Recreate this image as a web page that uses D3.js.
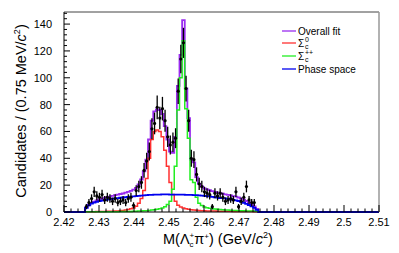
<!DOCTYPE html>
<html>
<head>
<meta charset="UTF-8">
<script src="https://d3js.org/d3.v7.min.js"></script>
<style>
  html, body { margin:0; padding:0; background:#fff; }
  svg text { font-family: "Liberation Sans", Arial, sans-serif; fill:#000; }
</style>
</head>
<body>
<div id="chart"></div>
<script>
// binning: 0.75 MeV bins, first filled bin starts at 2.426 GeV
const binWidth = 0.00075;
const firstEdge = 2.426;

// data (candidates per bin)
const dataCounts = [4, 7, 10, 15, 12, 11, 13, 9, 11, 10, 8, 10, 7, 8, 9, 7, 10, 11, 5, 16,
  19, 22, 31, 38, 45, 62, 66, 78, 70, 77, 68, 56, 50, 52, 55, 90, 114, 126, 92, 68,
  40, 39, 28, 21, 19, 15, 14, 13, 4, 14, 12, 14, 11, 8, 9, 10, 9, 15, 4, 8,
  11, 19, 9, 7, 7];

// fit components, same bins
const overallFit = [3.2, 5.4, 6.8, 7.8, 8.6, 9.3, 10.0, 10.6, 11.1, 11.5, 12.0, 12.5, 12.9, 13.4, 13.8, 14.4,
  15.0, 15.8, 16.6, 18.0, 20.5, 24.2, 30.3, 39, 54, 68, 75, 76.5, 76, 73, 64, 54, 45, 44, 56, 94, 117, 143,
  92, 70, 39, 37, 26, 21, 19, 17.5, 16.8, 16.2, 15.6, 15.0, 14.5, 14.0, 13.6, 13.2, 12.8, 12.4, 11.9, 11.4,
  10.8, 10.0, 9.2, 8.2, 7.1, 5.8, 4.2, 2.3];
const sigma0 = [0.1, 0.1, 0.2, 0.2, 0.3, 0.3, 0.4, 0.4, 0.5, 0.5, 0.6, 0.7,
  0.8, 1.0, 1.2, 1.5, 1.9, 2.4, 3.0, 4.2, 6.5, 10, 16, 25, 40, 54, 60, 61, 60, 56, 46, 34, 22, 13, 8, 5,
  3.8, 3.0, 2.4, 2.0, 1.7, 1.5, 1.3, 1.1, 1.0, 0.9,
  0.8, 0.8, 0.7, 0.7, 0.6, 0.6, 0.6, 0.5, 0.5, 0.5, 0.4, 0.4, 0.4, 0.4, 0.3, 0.3, 0.3, 0.3, 0.2, 0.2];
const sigmaPP = [0.1, 0.1, 0.1, 0.1, 0.1, 0.1, 0.15, 0.15, 0.2, 0.2, 0.2, 0.25, 0.25, 0.3, 0.3, 0.35, 0.4, 0.45,
  0.5, 0.6, 0.7, 0.8, 0.9, 1.0, 1.2, 1.4, 1.7, 2.0, 2.5, 3.0, 4.0, 5.5, 8, 17, 34, 76, 100, 127.5, 77, 55, 24,
  22, 11, 6.5, 4.8, 3.8, 3.2, 2.8, 2.5, 2.2, 2.0, 1.8, 1.6, 1.5, 1.4, 1.3, 1.2, 1.1, 1.0, 0.9, 0.9, 0.8, 0.8,
  0.7, 0.7, 0.6];
const phaseSpace = [3, 5, 6.2, 7, 7.6, 8.1, 8.5, 8.9, 9.2, 9.5, 9.8, 10.1, 10.4, 10.6, 10.8, 11.0, 11.2, 11.4,
  11.6, 11.8, 12.0, 12.2, 12.4, 12.5, 12.7, 12.8, 12.9, 13.0, 13.0, 13.1, 13.1, 13.1, 13, 13, 13, 13, 12.9,
  12.9, 12.8, 12.8, 12.7, 12.6, 12.5, 12.4, 12.2, 12.0, 11.8, 11.6, 11.3, 11.0, 10.7, 10.4, 10.4, 10.1, 9.8,
  9.5, 9.1, 8.7, 8.2, 7.6, 6.9, 6.1, 5.2, 4.2, 3.0, 1.6];

const xTicks = [2.42, 2.43, 2.44, 2.45, 2.46, 2.47, 2.48, 2.49, 2.5, 2.51];
const yTicks = [0, 20, 40, 60, 80, 100, 120, 140];

const legendItems = [
  {name: "Overall fit", color: "#9a2cf0"},
  {name: "Σ", sub: "c", sup: "0", color: "#ff3030"},
  {name: "Σ", sub: "c", sup: "++", color: "#22ee22"},
  {name: "Phase space", color: "#0000ee"}
];

const W = 399, H = 253;
const svg = d3.select("#chart").append("svg").attr("width", W).attr("height", H);

const x = d3.scaleLinear().domain([2.42, 2.51]).range([64, 379]);
const y = d3.scaleLinear().domain([0, 149]).range([212, 12]);

// step outline over full axis, zero outside the filled bins
function stepPath(vals) {
  let pts = [[x.domain()[0], 0], [firstEdge, 0]];
  vals.forEach((v, i) => {
    const lo = firstEdge + i * binWidth;
    pts.push([lo, v], [lo + binWidth, v]);
  });
  pts.push([firstEdge + vals.length * binWidth, 0], [x.domain()[1], 0]);
  return d3.line().x(d => x(d[0])).y(d => y(d[1]))(pts);
}

const series = [
  {vals: overallFit, color: legendItems[0].color, w: 1.8},
  {vals: sigma0, color: legendItems[1].color, w: 1.5},
  {vals: sigmaPP, color: legendItems[2].color, w: 1.5},
  {vals: phaseSpace, color: legendItems[3].color, w: 1.8}
];
svg.selectAll("path.fit").data(series).join("path")
  .attr("class", "fit")
  .attr("d", d => stepPath(d.vals))
  .attr("fill", "none")
  .attr("stroke", d => d.color)
  .attr("stroke-width", d => d.w);

// data points with sqrt(N) errors
const pts = dataCounts.map((n, i) => ({m: firstEdge + (i + 0.5) * binWidth, n: n}));
svg.selectAll("line.err").data(pts).join("line")
  .attr("class", "err")
  .attr("x1", d => x(d.m)).attr("x2", d => x(d.m))
  .attr("y1", d => y(d.n + Math.sqrt(d.n))).attr("y2", d => y(Math.max(0, d.n - Math.sqrt(d.n))))
  .attr("stroke", "#000").attr("stroke-width", 1.3);
svg.selectAll("circle.pt").data(pts).join("circle")
  .attr("class", "pt")
  .attr("cx", d => x(d.m)).attr("cy", d => y(d.n)).attr("r", 1.6)
  .attr("fill", "#000");

// frame
svg.append("line").attr("x1", 64).attr("x2", 379).attr("y1", 12).attr("y2", 12)
  .attr("stroke", "#444").attr("stroke-width", 1);
svg.append("line").attr("x1", 379).attr("x2", 379).attr("y1", 12).attr("y2", 212)
  .attr("stroke", "#999").attr("stroke-width", 1.5);

// x axis, ticks pointing up
const gx = svg.append("g").attr("transform", "translate(0,212)");
gx.append("line").attr("x1", 64).attr("x2", 379).attr("stroke", "#000");
const xMinor = d3.range(0, 46).map(i => 2.42 + i * 0.002);
gx.selectAll("line.mt").data(xMinor).join("line")
  .attr("x1", d => x(d)).attr("x2", d => x(d))
  .attr("y1", 0).attr("y2", (d, i) => i % 5 === 0 ? -7 : -3.5)
  .attr("stroke", "#000");
gx.selectAll("text").data(xTicks).join("text")
  .attr("x", d => x(d)).attr("y", 14)
  .attr("text-anchor", "middle").attr("font-size", 11)
  .text(d => d);

// y axis, ticks pointing right
const gy = svg.append("g").attr("transform", "translate(64,0)");
gy.append("line").attr("y1", 12).attr("y2", 212).attr("stroke", "#000");
const yMinor = d3.range(0, 38).map(i => i * 4);
gy.selectAll("line.mt").data(yMinor).join("line")
  .attr("y1", d => y(d)).attr("y2", d => y(d))
  .attr("x1", 0).attr("x2", (d, i) => i % 5 === 0 ? 6 : 3)
  .attr("stroke", "#000");
gy.selectAll("text").data(yTicks).join("text")
  .attr("x", -12).attr("y", d => y(d)).attr("dy", "0.36em")
  .attr("text-anchor", "end").attr("font-size", 11)
  .text(d => d);

// axis titles
const yt = svg.append("text")
  .attr("transform", "translate(26,111) rotate(-90)")
  .attr("text-anchor", "middle").attr("font-size", 14.5);
yt.append("tspan").text("Candidates / (0.75 MeV/");
yt.append("tspan").attr("font-style", "italic").text("c");
yt.append("tspan").attr("font-size", 9).attr("dy", -6).text("2");
yt.append("tspan").attr("dy", 6).text(")");

const xt = svg.append("text").attr("x", 163).attr("y", 244).attr("font-size", 14.5);
xt.append("tspan").text("M(Λ");
xt.append("tspan").attr("font-size", 8).attr("dy", 3).text("c");
xt.append("tspan").attr("font-size", 8).attr("dx", -4).attr("dy", -9).text("+");
xt.append("tspan").attr("dy", 6).text("π");
xt.append("tspan").attr("font-size", 8).attr("dy", -5).text("+");
xt.append("tspan").attr("dy", 5).text(") (GeV/");
xt.append("tspan").attr("font-style", "italic").text("c");
xt.append("tspan").attr("font-size", 9).attr("dy", -6).text("2");
xt.append("tspan").attr("dy", 6).text(")");

// legend
const lg = svg.append("g");
const rowY = [31, 43, 56, 69];
legendItems.forEach((d, i) => {
  lg.append("line").attr("x1", 282).attr("x2", 296).attr("y1", rowY[i]).attr("y2", rowY[i])
    .attr("stroke", d.color).attr("stroke-width", 1.3);
  const t = lg.append("text").attr("x", 298).attr("y", rowY[i]).attr("dy", "0.36em")
    .attr("font-size", 10).text(d.name);
  if (d.sub) {
    lg.append("text").attr("x", 305).attr("y", rowY[i] + 6).attr("font-size", 7).text(d.sub);
    lg.append("text").attr("x", 305).attr("y", rowY[i] - 1).attr("font-size", 7).text(d.sup);
  }
});
</script>
</body>
</html>
